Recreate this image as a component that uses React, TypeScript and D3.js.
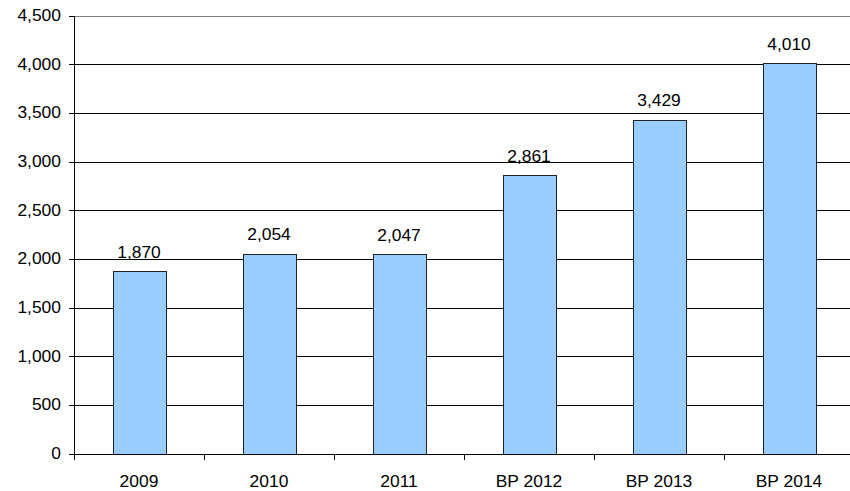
import React from "react";
import * as d3 from "d3";

const categories = ["2009", "2010", "2011", "BP 2012", "BP 2013", "BP 2014"];
const values = [1870, 2054, 2047, 2861, 3429, 4010];
const yTicks = [0, 500, 1000, 1500, 2000, 2500, 3000, 3500, 4000, 4500];

const W = 850;
const H = 491;
const left = 74;
const right = 854;
const top = 15.5;
const bottom = 453.5;

const font = "'Liberation Sans', Arial, sans-serif";
const FS = 16;
const SX = 1.09;

function Label({ x, y, anchor, children }: { x: number; y: number; anchor: string; children: React.ReactNode }) {
  return (
    <text transform={`translate(${x},${y}) scale(${SX},1)`} textAnchor={anchor} fontSize={FS} fill="#000" fontFamily={font}>
      {children}
    </text>
  );
}

export default function App() {
  const x = d3.scaleBand<string>().domain(categories).range([left, right]).paddingInner(0).paddingOuter(0);
  const y = d3.scaleLinear().domain([0, 4500]).range([bottom, top]);
  const bw = x.bandwidth() * 0.405;
  const fmt = d3.format(",");
  return (
    <svg width={W} height={H} style={{ position: "absolute", left: 0, top: 0, background: "#fff" }} fontFamily={font}>
      {yTicks.map((t) => (
        <g key={t}>
          {t > 0 && (
            <line x1={left} x2={W} y1={Math.round(y(t)) + 0.5} y2={Math.round(y(t)) + 0.5} stroke={t === 4500 ? "#808080" : "#000"} strokeWidth={1} />
          )}
          <line x1={left - 5} x2={left} y1={Math.round(y(t)) + 0.5} y2={Math.round(y(t)) + 0.5} stroke="#000" />
          <Label x={61} y={y(t) + 5.5} anchor="end">{fmt(t)}</Label>
        </g>
      ))}
      {categories.map((c, i) => {
        const cx = x(c)! + x.bandwidth() / 2;
        const bx = Math.round(cx - bw / 2) + 0.5;
        const by = Math.round(y(values[i])) + 0.5;
        return (
          <g key={c}>
            <rect x={bx} y={by} width={Math.round(bw)} height={Math.round(bottom) - by + 0.5} fill="#99CCFF" stroke="#222" strokeWidth={1} />
            <Label x={cx} y={y(values[i]) - 13.5} anchor="middle">{fmt(values[i])}</Label>
            <Label x={cx} y={486.5} anchor="middle">{c}</Label>
          </g>
        );
      })}
      {d3.range(categories.length + 1).map((i) => {
        const tx = Math.round(left + i * x.bandwidth()) + 0.5;
        return <line key={i} x1={tx} x2={tx} y1={Math.round(bottom)} y2={Math.round(bottom) + 6} stroke="#000" />;
      })}
      <line x1={left + 0.5} x2={left + 0.5} y1={Math.round(top)} y2={Math.round(bottom) + 1} stroke="#000" />
      <line x1={left - 5} x2={W} y1={Math.round(bottom) + 0.5} y2={Math.round(bottom) + 0.5} stroke="#000" />
    </svg>
  );
}
